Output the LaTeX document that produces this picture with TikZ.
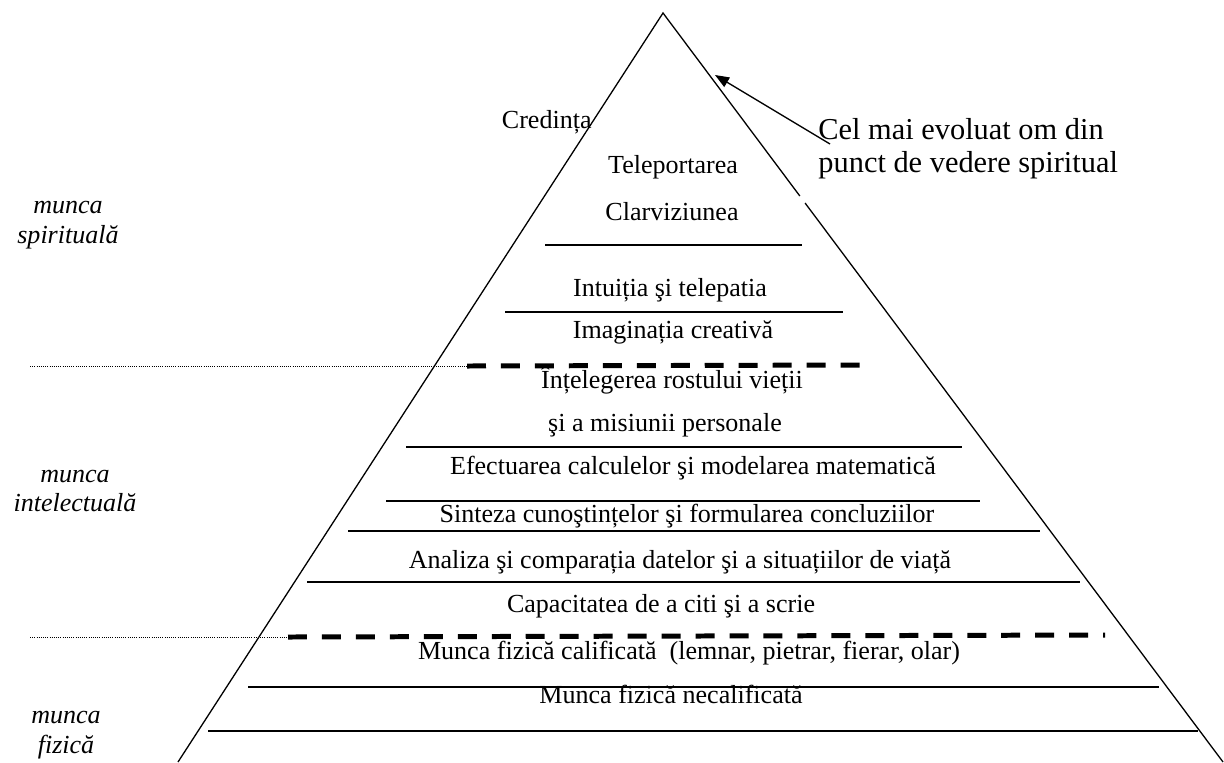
\documentclass[tikz,border=0pt]{standalone}
\usepackage{fontspec}
\setmainfont{Liberation Serif}
\usetikzlibrary{calc,arrows.meta}

\begin{document}
\begin{tikzpicture}[x=0.4608pt, y=-0.4608pt,
    lvl/.style={anchor=base, inner sep=0pt, font=\fontsize{12}{14}\selectfont},
    side/.style={align=center, inner sep=0pt, font=\fontsize{12}{13.5}\selectfont\itshape},
    sep/.style={line width=0.7pt},
    border/.style={line width=2.3pt, dash pattern=on 8.75pt off 6.9pt},
    guide/.style={line width=0.4pt, dash pattern=on 0.4pt off 0.6pt}]
            \useasboundingbox (0,0) rectangle (1224,762);

            \coordinate (apex) at (663,13);
            \coordinate (lb) at (178,762);
            \coordinate (rb) at (1223,762);
            \draw[line width=0.6pt] (lb) -- (apex) -- ($(apex)!0.2443!(rb)$);
            \draw[line width=0.6pt] ($(apex)!0.2537!(rb)$) -- (rb);

            \node[lvl, anchor=base east] (cred) at (592,128) {Credința};
            \node[lvl] (t1) at (673,173) {Teleportarea};
            \node[lvl] (t2) at (672,220) {Clarviziunea};
            \node[lvl] (t3) at (670,296) {Intuiția şi telepatia};
            \node[lvl] (t4) at (673,338) {Imaginația creativă};
            \node[lvl] (t5) at (672,388) {Înțelegerea rostului vieții};
            \node[lvl] (t6) at (665,431) {şi a misiunii personale};
            \node[lvl] (t7) at (693,474) {Efectuarea calculelor şi modelarea matematică};
            \node[lvl] (t8) at (687,522) {Sinteza cunoştințelor şi formularea concluziilor};
            \node[lvl] (t9) at (680,568) {Analiza şi comparația datelor şi a situațiilor de viață};
            \node[lvl] (t10) at (661,612) {Capacitatea de a citi şi a scrie};
            \node[lvl] (t11) at (689,659) {Munca fizică calificată~ (lemnar, pietrar, fierar, olar)};
            \node[lvl] (t12) at (671,703) {Munca fizică necalificată};

            \draw[sep] (545,245) -- (802,245);
            \draw[sep] (505,312) -- (843,312);
            \draw[sep] (406,447) -- (962,447);
            \draw[sep] (386,501) -- (980,501);
            \draw[sep] (348,531) -- (1040,531);
            \draw[sep] (307,582) -- (1080,582);
            \draw[sep] (248,687) -- (1159,687);
            \draw[sep] (208,731) -- (1198,731);

            \coordinate (g1) at (467,366);
            \coordinate (g2) at (288,637);
            \draw[guide] (30,366) -- (g1);
            \draw[guide] (30,637) -- (g2);
            \draw[border] (g1) -- (868,365);
            \draw[border] (g2) -- (1105,635);

            \node[side] (ms) at (68,225) {munca\\spirituală};
            \node[side] (mi) at (75,491) {munca\\intelectuală};
            \node[side] (mf) at (66,735) {munca\\fizică};

            \node[anchor=north west, inner sep=0pt, align=left, font=\fontsize{14}{15.2}\selectfont] (note) at (818,118) {Cel mai evoluat om din\\punct de vedere spiritual};
            \coordinate (tail) at (830,144);
            \coordinate (tip) at (715,75);
            \draw[line width=0.6pt, -{Triangle[length=6.5pt,width=5pt]}] (tail) -- (tip);
        \end{tikzpicture}
\end{document}
